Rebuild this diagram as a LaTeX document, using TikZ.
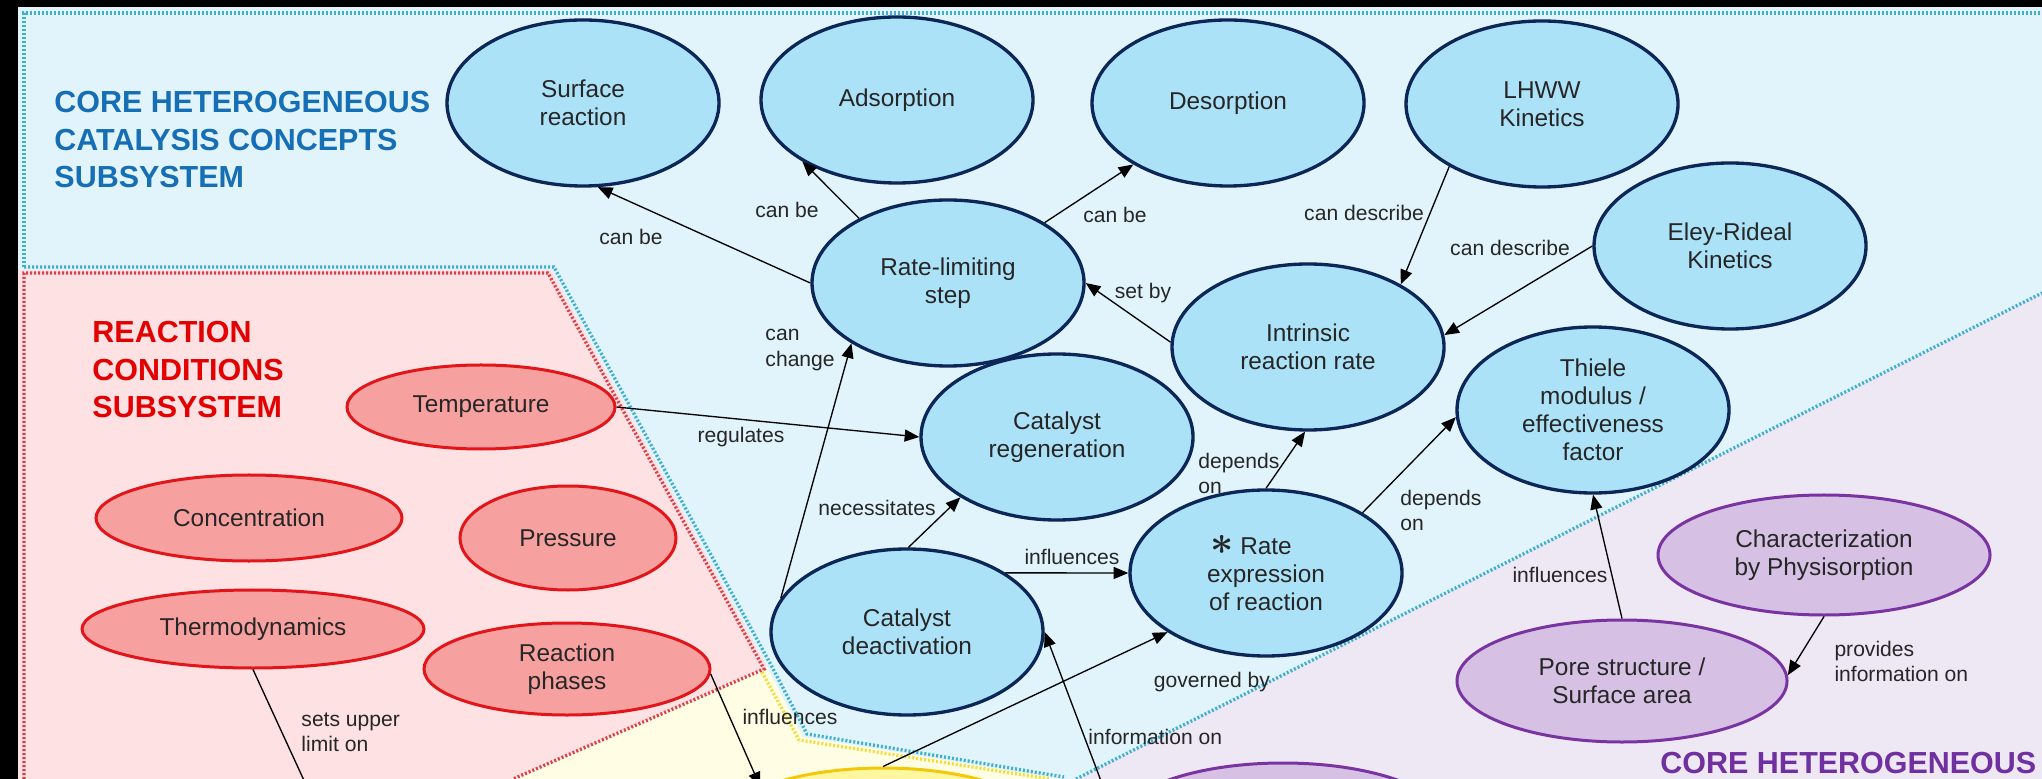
\documentclass[tikz,border=0pt]{standalone}
\usepackage{fontspec}
\setmainfont{Liberation Sans}
\usepackage{tikz}
\usetikzlibrary{positioning,arrows.meta,shapes.geometric}

\definecolor{skybg}{RGB}{225,244,251}
\definecolor{rosebg}{RGB}{253,225,227}
\definecolor{lemonbg}{RGB}{255,253,228}
\definecolor{lilacbg}{RGB}{238,231,244}
\definecolor{skyline}{RGB}{62,176,206}
\definecolor{roseline}{RGB}{222,62,72}
\definecolor{lemonline}{RGB}{240,222,60}
\definecolor{skyfill}{RGB}{172,226,247}
\definecolor{skyedge}{RGB}{12,38,88}
\definecolor{rosefill}{RGB}{247,160,160}
\definecolor{roseedge}{RGB}{226,22,26}
\definecolor{lilacfill}{RGB}{214,193,228}
\definecolor{lilacedge}{RGB}{122,52,162}
\definecolor{lemonfill}{RGB}{255,246,160}
\definecolor{lemonedge}{RGB}{244,200,10}
\definecolor{titleblue}{RGB}{22,110,180}
\definecolor{titlered}{RGB}{226,0,0}
\definecolor{titlepurple}{RGB}{112,48,160}

\newcommand{\nodefont}{\fontsize{10.4}{12}\selectfont}
\newcommand{\lblfont}{\fontsize{9}{10.7}\selectfont}
\newcommand{\headfont}{\fontsize{13}{16}\selectfont\bfseries}
\newcommand{\starmark}{{\fontsize{16}{16}\selectfont\boldmath$\ast$}}

\tikzset{
  concept/.style={ellipse, draw=skyedge, fill=skyfill, line width=0.5mm,
    minimum width=40.8mm, minimum height=24.9mm, inner sep=0pt,
    align=center, text=black!85, font=\nodefont},
  condition/.style={ellipse, draw=roseedge, fill=rosefill, line width=0.45mm,
    inner sep=0pt, align=center, text=black!85, font=\nodefont},
  method/.style={ellipse, draw=lilacedge, fill=lilacfill, line width=0.45mm,
    minimum width=49.5mm, minimum height=18.3mm, inner sep=0pt,
    align=center, text=black!85, font=\nodefont},
  reactor/.style={ellipse, draw=lemonedge, fill=lemonfill, line width=0.45mm,
    minimum width=49.5mm, minimum height=18.3mm, inner sep=0pt},
  lbl/.style={font=\lblfont, text=black!85, align=left, inner sep=0pt},
  link/.style={-{Triangle[length=2.2mm,width=1.8mm]}, line width=0.2mm, black},
  dotline/.style={line width=0.5mm, dash pattern=on 0.3mm off 0.3mm},
  heading/.style={font=\headfont, align=left, anchor=west, inner sep=0pt},
}

\begin{document}
\begin{tikzpicture}[x=0.15mm,y=-0.15mm]

  \useasboundingbox (0,0) rectangle (2042,779);
  \clip (0,0) rectangle (2042,779);

  % subsystem panels
  \fill[black] (0,0) rectangle (2042,779);
  \fill[skybg] (18,7) rectangle (2042,779);
  \fill[rosebg] (18,270) -- (551,270) -- (767,667) -- (513,779) -- (18,779) -- cycle;
  \fill[lemonbg] (513,779) -- (767,667) -- (803,737) -- (1060,779) -- cycle;
  \fill[lilacbg] (1076,779) -- (2042,293) -- (2042,779) -- cycle;

  \draw[dotline,skyline] (24,267) -- (24,13) -- (2042,13);
  \draw[dotline,skyline] (24,267) -- (554,267) -- (771,665) -- (807,734) -- (1064,777);
  \draw[dotline,roseline] (24,779) -- (24,273) -- (548,273) -- (764,669) -- (513,779);
  \draw[dotline,lemonline] (762,672) -- (799,740) -- (1050,779);
  \draw[dotline,skyline] (1076,779) -- (2042,293);

  % titles
  \node[heading,text=titleblue] (tcore) at (54,140) {CORE HETEROGENEOUS\\CATALYSIS CONCEPTS\\SUBSYSTEM};
  \node[heading,text=titlered] (tcond) at (92,370) {REACTION\\CONDITIONS\\SUBSYSTEM};
  \node[heading,text=titlepurple] (tchar) at (1660,763) {CORE HETEROGENEOUS};

  % core concepts
  \node[concept] (sr) at (583,103) {Surface\\reaction};
  \node[concept] (ad) at (897,100) {Adsorption};
  \node[concept] (de) at (1228,103) {Desorption};
  \node[concept] (lh) at (1542,104) {LHWW\\Kinetics};
  \node[concept] (er) at (1730,246) {Eley-Rideal\\Kinetics};
  \node[concept] (rl) at (948,283) {Rate-limiting\\step};
  \node[concept] (ir) at (1308,347) {Intrinsic\\reaction rate};
  \node[concept] (th) at (1593,410) {Thiele\\modulus /\\effectiveness\\factor};
  \node[concept] (cr) at (1057,437) {Catalyst\\regeneration};
  \node[concept] (cd) at (907,632) {Catalyst\\deactivation};
  \node[concept] (re) at (1266,573) {\starmark\ Rate\hspace*{4.5mm}\\expression\\of reaction};

  % reaction conditions
  \node[condition,minimum width=40.2mm,minimum height=12.6mm] (te) at (481,407) {Temperature};
  \node[condition,minimum width=45.9mm,minimum height=12.9mm] (co) at (249,518) {Concentration};
  \node[condition,minimum width=32.4mm,minimum height=15.6mm] (pr) at (568,538) {Pressure};
  \node[condition,minimum width=51.3mm,minimum height=11.7mm] (td) at (253,629) {Thermodynamics};
  \node[condition,minimum width=42.9mm,minimum height=13.8mm] (rp) at (567,669) {Reaction\\phases};

  % characterization
  \node[method,minimum width=49.8mm,minimum height=18mm] (ch) at (1824,555) {Characterization\\by Physisorption};
  \node[method] (ps) at (1622,681) {Pore structure /\\Surface area};
  \node[method] (pb) at (1283,824) {};
  \node[reactor] (ye) at (883,829) {};

  \coordinate (infsrc) at (1112,810);
  \coordinate (setsend) at (313,800);

  % links
  \path[link] (rl.180) edge (sr.-80);
  \path[link] (rl.144) edge (ad.213);
  \path[link] (rl.32) edge (de.213);
  \path[link] (lh.214) edge (ir.34);
  \path[link] (er.180) edge (ir.5);
  \path[link] (ir.178) edge (rl.0);
  \path[link] (cd.165) edge (rl.212);
  \path[link] (te.0) edge (cr.180);
  \path[link] (cd.89) edge (cr.212);
  \path[link] (cd.31) edge (re.180);
  \path[link] (re.90) edge (ir.268);
  \path[link] (re.32) edge (th.183);
  \path[link] (ps.90) edge (th.270);
  \path[link] (ch.270) edge (ps.2);
  \path[link] (ye.90) edge (re.211);
  \path[link] (infsrc) edge (cd.0);
  \path[link] (rp.-2) edge (ye.161);
  \path[link] (td.270) edge (setsend);

  % link labels
  \node[lbl] (l0) at (631,237) {can be};
  \node[lbl] (l1) at (787,210) {can be};
  \node[lbl] (l2) at (1115,215) {can be};
  \node[lbl] (l3) at (1364,213) {can describe};
  \node[lbl] (l4) at (1510,248) {can describe};
  \node[lbl] (l5) at (1143,293) {set by};
  \node[lbl,anchor=west] (l6) at (765,350) {can\\change};
  \node[lbl] (l7) at (741,437) {regulates};
  \node[lbl] (l8) at (877,508) {necessitates};
  \node[lbl] (l9) at (1072,557) {influences};
  \node[lbl,anchor=west] (l10) at (1198,473) {depends\\on};
  \node[lbl,anchor=west] (l11) at (1400,510) {depends\\on};
  \node[lbl] (l12) at (1560,575) {influences};
  \node[lbl,anchor=west] (l13) at (1834,661) {provides\\information on};
  \node[lbl] (l14) at (1212,682) {governed by};
  \node[lbl,anchor=west] (l15) at (1088,737) {information on};
  \node[lbl] (l16) at (790,717) {influences};
  \node[lbl,anchor=west] (l17) at (301,732) {sets upper\\limit on};

\end{tikzpicture}
\end{document}
